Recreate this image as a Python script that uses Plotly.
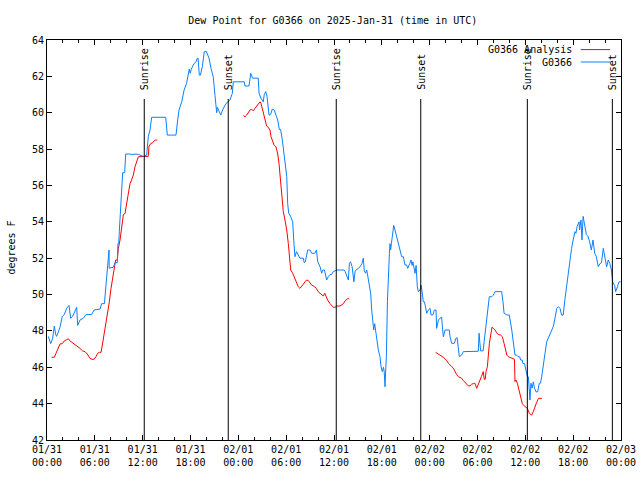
import pandas as pd
import plotly.graph_objects as go

START = pd.Timestamp("2025-01-31 00:00")

# ---- G0366 observations (hours since 01/31 00:00 UTC, dew point degF) ----
obs_hours = [
    0.17, 0.46, 0.71, 0.92, 1.09, 1.21, 1.63, 1.92, 2.17, 2.47, 2.76, 2.97, 3.22, 3.39, 3.72, 3.85,
    4.14, 4.56, 4.89, 5.6, 5.9, 6.65, 6.86, 7.2, 7.4, 7.57, 7.78, 7.8, 8.32, 8.53, 8.82, 8.9,
    9.0, 9.07, 9.24, 9.49, 9.74, 9.87, 10.41, 10.6, 11.16, 11.5, 12.08, 12.5, 12.71, 12.92, 13.13, 14.89,
    15.09, 16.18, 16.39, 16.56, 16.9, 17.2, 17.5, 17.85, 17.96, 18.1, 18.44, 18.69, 18.86, 18.95, 19.1, 19.25,
    19.48, 19.73, 20.0, 20.32, 20.57, 20.86, 21.07, 21.29, 21.37, 21.5, 21.79, 22.03, 22.33, 22.66, 22.95, 23.25,
    23.37, 24.75, 24.84, 25.34, 25.55, 25.8, 26.5, 26.6, 26.84, 27.13, 27.25, 27.43, 27.6, 27.85, 28.05, 28.26,
    28.5, 28.72, 28.94, 29.14, 29.3, 29.52, 29.73, 29.9, 30.07, 30.19, 30.32, 30.57, 30.82, 30.95, 31.0, 31.1,
    31.3, 31.5, 31.73, 32.15, 32.27, 32.4, 32.7, 33.0, 33.2, 33.6, 33.8, 33.96, 34.25, 34.45, 34.6, 34.8,
    35.08, 35.3, 35.5, 35.7, 35.9, 36.34, 37.25, 37.4, 37.6, 37.8, 37.93, 38.07, 38.27, 38.5, 38.65, 38.85,
    39.07, 39.28, 39.5, 39.68, 39.8, 39.98, 40.1, 40.18, 40.4, 40.6, 40.73, 40.86, 40.98, 41.1, 41.2, 41.35,
    41.56, 41.77, 41.9, 42.06, 42.2, 42.3, 42.4, 42.5, 42.57, 42.7, 42.82, 42.95, 43.03, 43.1, 43.2, 43.36,
    43.49, 43.65, 43.86, 44.07, 44.28, 44.49, 44.7, 44.9, 45.1, 45.25, 45.5, 45.66, 45.8, 45.9, 46.16, 46.3,
    46.45, 46.58, 46.79, 46.92, 47.05, 47.2, 47.35, 47.46, 47.63, 47.84, 48.05, 48.17, 48.4, 48.59, 48.8, 48.87,
    49.1, 49.3, 49.5, 49.63, 49.72, 49.93, 50.47, 50.55, 50.76, 51.1, 51.3, 51.45, 51.6, 51.72, 52.0, 52.22,
    54.1, 54.2, 54.3, 54.4, 54.7, 54.9, 55.15, 55.36, 55.48, 55.8, 55.99, 56.2, 57.03, 57.2, 57.33, 57.68,
    57.99, 58.3, 58.5, 58.7, 58.9, 59.1, 59.3, 59.4, 59.6, 59.7, 59.9, 60.08, 60.25, 60.38, 60.5, 60.58,
    60.7, 60.85, 61.0, 61.15, 61.34, 61.55, 61.75, 61.9, 62.05, 62.26, 62.47, 62.68, 62.9, 63.1, 63.3, 63.5,
    63.72, 63.94, 64.15, 64.35, 64.55, 64.75, 64.98, 65.2, 65.4, 65.6, 65.8, 66.0, 66.23, 66.35, 66.5, 66.74,
    66.8, 66.98, 67.1, 67.25, 67.45, 67.66, 67.86, 68.07, 68.28, 68.49, 68.7, 68.9, 69.15, 69.36, 69.55, 69.78,
    70.0, 70.2, 70.4, 70.6, 70.8, 70.96, 71.2, 71.33, 71.55, 71.75, 71.96,
]
obs_dewpt = [
    47.7, 47.3, 47.6, 48.27, 47.8, 47.7, 48.2, 48.8, 48.9, 49.25, 49.4, 48.7, 48.8, 49.0, 49.3, 48.3,
    48.6, 48.7, 48.9, 48.9, 49.15, 49.2, 49.5, 49.5, 50.6, 51.44, 52.45, 51.45, 51.5, 51.75, 51.75, 52.8,
    52.8, 53.46, 55.0, 56.7, 56.7, 57.73, 57.73, 57.7, 57.73, 57.7, 57.6, 57.67, 58.7, 59.05, 59.75, 59.75,
    58.77, 58.77, 59.6, 60.15, 60.6, 61.25, 61.6, 62.4, 62.17, 62.4, 62.7, 62.8, 63.0, 63.0, 62.07, 62.07,
    62.53, 63.36, 63.36, 63.0, 62.45, 61.95, 60.95, 60.0, 60.3, 60.15, 59.87, 60.15, 60.42, 60.6, 60.7, 61.07,
    61.7, 61.7, 61.47, 61.47, 62.17, 61.9, 61.9, 61.07, 60.8, 60.6, 61.0, 61.16, 60.9, 59.87, 59.9, 60.2,
    60.15, 59.87, 59.6, 59.08, 59.08, 58.5, 57.77, 57.2, 56.5, 55.0, 54.47, 54.28, 54.0, 53.0, 52.6, 52.08,
    52.36, 52.2, 52.0, 52.0, 51.75, 51.8, 52.45, 52.45, 52.27, 52.27, 52.45, 51.8, 51.53, 51.17, 51.35, 51.35,
    50.8, 51.0, 51.1, 51.1, 51.26, 51.35, 51.35, 51.26, 50.98, 50.8, 51.7, 51.8, 51.53, 50.7, 51.3, 51.35,
    51.45, 51.53, 51.7, 52.0, 51.3, 51.17, 51.35, 51.17, 50.6, 50.07, 49.15, 48.4, 48.05, 48.4, 48.05, 47.5,
    46.95, 46.58, 46.03, 45.76, 46.0, 45.76, 44.93, 46.0, 46.58, 49.6, 51.35, 52.27, 52.8, 52.45, 52.8, 53.37,
    53.8, 53.55, 53.2, 52.8, 52.4, 52.08, 52.08, 51.63, 51.63, 51.44, 51.7, 51.9, 51.6, 51.8, 51.17, 51.6,
    50.43, 50.16, 50.25, 50.52, 50.16, 49.6, 49.6, 49.33, 48.97, 49.15, 49.24, 48.88, 48.88, 49.15, 49.15, 48.14,
    48.6, 48.7, 48.75, 48.05, 47.68, 48.05, 48.05, 47.68, 47.32, 47.32, 47.6, 47.62, 47.13, 46.58, 46.67, 46.86,
    46.88, 47.87, 47.32, 46.9, 46.9, 47.6, 48.6, 49.15, 49.88, 49.88, 49.97, 50.16, 50.16, 49.6, 48.97, 48.88,
    48.87, 48.05, 47.32, 46.67, 46.67, 46.58, 46.58, 46.4, 46.4, 46.2, 46.2, 45.85, 45.5, 45.48, 44.57, 44.2,
    45.12, 44.85, 45.2, 44.85, 44.65, 44.65, 45.12, 45.12, 45.48, 46.03, 46.77, 47.4, 47.6, 47.87, 48.05, 48.23,
    48.7, 49.24, 49.33, 49.24, 48.87, 48.87, 49.79, 50.6, 51.07, 51.8, 52.54, 53.0, 53.46, 53.37, 53.75, 54.0,
    53.55, 54.1, 53.0, 54.3, 53.9, 53.3, 53.2, 52.9, 52.45, 53.0, 52.27, 52.1, 51.53, 51.7, 51.75, 52.54,
    52.0, 51.53, 51.9, 51.7, 51.35, 50.7, 50.5, 50.16, 50.43, 50.7, 50.7,
]

# ---- G0366 Analysis (three separate runs) ----
ana1_hours = [0.58, 0.92, 1.13, 1.42, 1.63, 1.92, 2.17, 2.47, 2.68, 2.89, 3.22, 3.5, 3.8, 4.14, 4.47, 4.77,
              5.06, 5.39, 5.64, 5.9, 6.15, 6.36, 6.57, 6.78, 6.94, 7.15, 7.36, 7.57, 7.82, 8.03, 8.24, 8.4,
              8.61, 8.82, 8.95, 9.16, 9.37, 9.58, 9.78, 10.0, 10.2, 10.41, 10.6, 10.83, 11.04, 11.25, 11.46, 12.7,
              12.8, 13.0, 13.25, 13.42, 13.63, 13.84]
ana1_dewpt = [46.55, 46.55, 46.77, 47.04, 47.28, 47.3, 47.45, 47.52, 47.57, 47.45, 47.35, 47.28, 47.17, 47.04, 46.9, 46.86,
              46.73, 46.49, 46.44, 46.44, 46.59, 46.77, 46.82, 46.82, 47.22, 47.77, 48.5, 49.06, 49.6, 50.34, 50.9, 51.44,
              51.9, 51.9, 52.54, 53.0, 53.8, 54.4, 54.45, 55.1, 55.66, 56.1, 56.3, 56.57, 57.03, 57.3, 57.58, 57.6,
              58.17, 58.3, 58.35, 58.44, 58.5, 58.5]
ana2_hours = [24.63, 24.84, 25.05, 25.26, 25.46, 25.68, 25.88, 26.1, 26.3, 26.5, 26.72, 26.84, 27.0, 27.13, 27.35, 27.55,
              27.76, 27.97, 28.1, 28.3, 28.5, 28.72, 28.94, 29.1, 29.23, 29.35, 29.48, 29.64, 29.85, 30.07, 30.27, 30.4,
              30.57, 30.82, 31.1, 31.32, 31.52, 31.73, 31.94, 32.15, 32.36, 32.57, 32.78, 32.99, 33.2, 33.4, 33.6, 33.8,
              34.0, 34.2, 34.4, 34.66, 34.85, 35.0, 35.2, 35.5, 35.72, 35.93, 36.13, 36.34, 36.76, 36.97, 37.18, 37.4,
              37.6, 37.8, 37.93]
ana2_dewpt = [59.84, 59.78, 59.87, 60.0, 60.15, 60.19, 60.1, 60.25, 60.38, 60.5, 60.6, 60.52, 60.24, 59.96, 59.6, 59.27,
              59.2, 59.05, 58.68, 58.4, 58.2, 58.13, 57.73, 57.22, 56.67, 56.12, 55.38, 54.56, 54.1, 53.55, 52.8, 52.08,
              51.35, 51.17, 50.9, 50.6, 50.43, 50.34, 50.43, 50.57, 50.7, 50.8, 50.77, 50.66, 50.52, 50.48, 50.4, 50.34,
              50.16, 50.07, 49.98, 49.92, 50.07, 49.88, 49.7, 49.5, 49.37, 49.3, 49.3, 49.37, 49.37, 49.43, 49.5, 49.66,
              49.74, 49.8, 49.74]
ana3_hours = [48.75, 48.96, 49.2, 49.5, 49.72, 49.93, 50.14, 50.35, 50.55, 50.76, 50.97, 51.18, 51.39, 51.6, 51.8, 52.0,
              52.22, 52.43, 52.64, 52.85, 53.06, 53.27, 53.48, 53.68, 53.9, 54.1, 54.3, 54.5, 54.72, 54.85, 54.97, 55.07,
              55.24, 55.36, 55.49, 55.66, 55.82, 56.0, 56.2, 56.4, 56.6, 56.9, 57.12, 57.33, 57.54, 57.68, 57.87, 58.1,
              58.3, 58.64, 58.7, 58.83, 59.0, 59.2, 59.4, 59.62, 59.8, 60.08, 60.25, 60.5, 60.8, 61.0, 61.2, 61.4,
              61.65, 62.07]
ana3_dewpt = [46.82, 46.77, 46.67, 46.6, 46.55, 46.44, 46.37, 46.22, 46.1, 46.04, 45.95, 45.76, 45.6, 45.48, 45.45, 45.4,
              45.27, 45.16, 45.03, 44.98, 44.98, 45.07, 45.1, 45.12, 44.84, 45.03, 45.3, 45.5, 45.76, 45.34, 45.34, 45.76,
              46.03, 46.77, 47.32, 47.78, 48.2, 48.14, 48.05, 47.9, 47.8, 47.77, 47.68, 47.32, 46.95, 46.67, 46.58, 46.55,
              46.5, 46.44, 45.21, 45.3, 45.12, 44.75, 44.38, 44.0, 43.9, 43.83, 43.74, 43.47, 43.37, 43.56, 43.83, 44.05,
              44.29, 44.29]

# ---- sun events ----
sun_times = ["2025-01-31 12:12", "2025-01-31 22:44", "2025-02-01 12:17",
             "2025-02-01 22:53", "2025-02-02 12:15", "2025-02-02 22:55"]
sun_labels = ["Sunrise", "Sunset", "Sunrise", "Sunset", "Sunrise", "Sunset"]

# ---- ticks ----
tick_times = ["2025-01-31 00:00", "2025-01-31 06:00", "2025-01-31 12:00", "2025-01-31 18:00",
              "2025-02-01 00:00", "2025-02-01 06:00", "2025-02-01 12:00", "2025-02-01 18:00",
              "2025-02-02 00:00", "2025-02-02 06:00", "2025-02-02 12:00", "2025-02-02 18:00",
              "2025-02-03 00:00"]
tick_labels = ["01/31<br>00:00", "01/31<br>06:00", "01/31<br>12:00", "01/31<br>18:00",
               "02/01<br>00:00", "02/01<br>06:00", "02/01<br>12:00", "02/01<br>18:00",
               "02/02<br>00:00", "02/02<br>06:00", "02/02<br>12:00", "02/02<br>18:00",
               "02/03<br>00:00"]
y_ticks = [42, 44, 46, 48, 50, 52, 54, 56, 58, 60, 62, 64]


def to_time(hours):
    return list(START + pd.to_timedelta(hours, unit="h"))


# analysis runs joined with gaps
ana_x = to_time(ana1_hours) + [None] + to_time(ana2_hours) + [None] + to_time(ana3_hours)
ana_y = ana1_dewpt + [None] + ana2_dewpt + [None] + ana3_dewpt

FONT = "DejaVu Sans Mono"
RED = "#ff0000"
BLUE = "#0a80ff"

fig = go.Figure()
fig.add_trace(go.Scatter(x=ana_x, y=ana_y, mode="lines", name="G0366 Analysis",
                         line=dict(color=RED, width=1), connectgaps=False, showlegend=False))
fig.add_trace(go.Scatter(x=to_time(obs_hours), y=obs_dewpt, mode="lines", name="G0366",
                         line=dict(color=BLUE, width=1), showlegend=False))

LINE_TOP = 0.8525
for t, lab in zip(sun_times, sun_labels):
    fig.add_shape(type="line", xref="x", yref="paper", x0=t, x1=t, y0=0, y1=LINE_TOP,
                  line=dict(color="black", width=1))
    fig.add_annotation(x=t, xref="x", y=0.87, yref="paper", text=lab, textangle=-90,
                       showarrow=False, xanchor="center", yanchor="bottom",
                       font=dict(family=FONT, size=10, color="black"))

# custom gnuplot-style key (text right, sample line after it)
key = [("G0366 Analysis", RED, 0.976), ("G0366", BLUE, 0.945)]
for name, col, yy in key:
    fig.add_annotation(x=0.918, xref="paper", y=yy, yref="paper", text=name, showarrow=False,
                       xanchor="right", yanchor="middle", font=dict(family=FONT, size=10, color="black"))
    fig.add_shape(type="line", xref="paper", yref="paper", x0=0.930, x1=0.981, y0=yy, y1=yy,
                  line=dict(color=col, width=1))

# y-axis title
fig.add_annotation(x=-0.062, xref="paper", y=0.482, yref="paper", text="degrees F", textangle=-90,
                   showarrow=False, xanchor="center", yanchor="middle",
                   font=dict(family=FONT, size=10, color="black"))

fig.update_layout(
    width=640, height=480,
    margin=dict(l=47, r=19, t=40, b=40, autoexpand=False),
    paper_bgcolor="white", plot_bgcolor="white",
    font=dict(family=FONT, size=10, color="black"),
    title=dict(text="Dew Point for G0366 on 2025-Jan-31 (time in UTC)", x=0.52, xref="container",
               xanchor="center", y=1 - 20 / 480, yanchor="middle",
               font=dict(family=FONT, size=10, color="black")),
    showlegend=False,
)
fig.update_xaxes(
    type="date", range=["2025-01-31 00:00", "2025-02-03 00:00"], automargin=False,
    tickmode="array", tickvals=tick_times, ticktext=tick_labels,
    ticks="inside", ticklen=5, tickcolor="black", tickwidth=1,
    minor=dict(ticks="inside", ticklen=3, tickcolor="black", dtick=2 * 3600 * 1000,
               tick0="2025-01-31 00:00", showgrid=False),
    showline=True, linecolor="black", linewidth=1, mirror="ticks",
    showgrid=False, zeroline=False, tickfont=dict(family=FONT, size=10, color="black"),
)
fig.update_yaxes(
    range=[42, 64], tickmode="array", tickvals=y_ticks, automargin=False,
    ticks="inside", ticklen=5, tickcolor="black", tickwidth=1,
    showline=True, linecolor="black", linewidth=1, mirror="ticks",
    showgrid=False, zeroline=False, tickfont=dict(family=FONT, size=10, color="black"),
)

fig.write_html("out.html")
